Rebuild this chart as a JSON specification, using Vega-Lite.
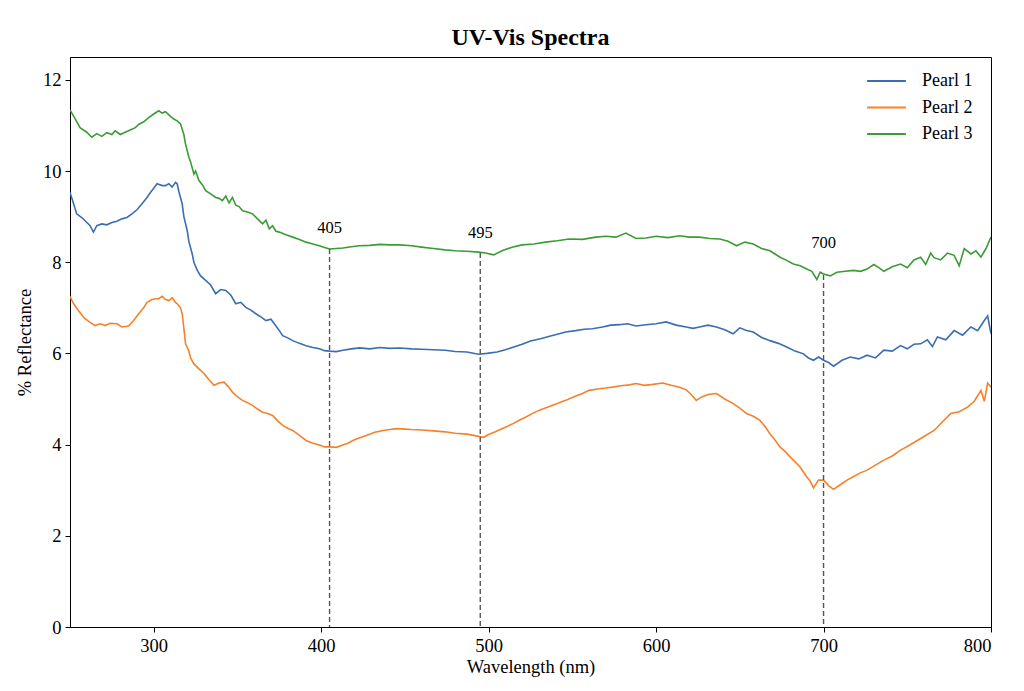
{
  "$schema": "https://vega.github.io/schema/vega-lite/v6.json",
  "autosize": "none",
  "padding": {"left": 70, "top": 57, "right": 33, "bottom": 64},
  "width": 921,
  "height": 570,
  "background": "white",
  "config": {
    "view": {"stroke": "black", "strokeWidth": 1},
    "font": "Liberation Serif",
    "axis": {"labelFont": "Liberation Serif", "titleFont": "Liberation Serif", "labelFontSize": 18.5, "titleFontSize": 18.5, "titleFontWeight": "normal", "labelColor": "black", "titleColor": "black", "domainColor": "black", "tickColor": "black", "tickSize": 5, "grid": false}
  },
  "title": {"text": "UV-Vis Spectra", "fontSize": 24, "fontWeight": "bold", "font": "Liberation Serif", "offset": 7, "color": "black"},
  "datasets": {
    "spectra": [
      {"nm":250,"r":11.34,"s":"Pearl 3"},{"nm":253,"r":11.15,"s":"Pearl 3"},{"nm":256,"r":10.95,"s":"Pearl 3"},{"nm":260,"r":10.85,"s":"Pearl 3"},{"nm":263,"r":10.74,"s":"Pearl 3"},{"nm":266,"r":10.82,"s":"Pearl 3"},{"nm":269,"r":10.76,"s":"Pearl 3"},{"nm":272,"r":10.84,"s":"Pearl 3"},{"nm":275,"r":10.8,"s":"Pearl 3"},{"nm":277,"r":10.88,"s":"Pearl 3"},{"nm":280,"r":10.8,"s":"Pearl 3"},{"nm":283,"r":10.85,"s":"Pearl 3"},{"nm":286,"r":10.9,"s":"Pearl 3"},{"nm":289,"r":10.95,"s":"Pearl 3"},{"nm":291,"r":11.02,"s":"Pearl 3"},{"nm":294,"r":11.08,"s":"Pearl 3"},{"nm":297,"r":11.17,"s":"Pearl 3"},{"nm":300,"r":11.25,"s":"Pearl 3"},{"nm":303,"r":11.32,"s":"Pearl 3"},{"nm":305,"r":11.27,"s":"Pearl 3"},{"nm":307,"r":11.3,"s":"Pearl 3"},{"nm":310,"r":11.2,"s":"Pearl 3"},{"nm":312,"r":11.14,"s":"Pearl 3"},{"nm":314,"r":11.1,"s":"Pearl 3"},{"nm":316,"r":11.03,"s":"Pearl 3"},{"nm":318,"r":10.8,"s":"Pearl 3"},{"nm":319,"r":10.59,"s":"Pearl 3"},{"nm":321,"r":10.3,"s":"Pearl 3"},{"nm":322,"r":10.2,"s":"Pearl 3"},{"nm":324,"r":9.93,"s":"Pearl 3"},{"nm":325,"r":10.0,"s":"Pearl 3"},{"nm":327,"r":9.79,"s":"Pearl 3"},{"nm":329,"r":9.7,"s":"Pearl 3"},{"nm":331,"r":9.57,"s":"Pearl 3"},{"nm":334,"r":9.5,"s":"Pearl 3"},{"nm":337,"r":9.42,"s":"Pearl 3"},{"nm":339,"r":9.4,"s":"Pearl 3"},{"nm":341,"r":9.35,"s":"Pearl 3"},{"nm":343,"r":9.45,"s":"Pearl 3"},{"nm":345,"r":9.3,"s":"Pearl 3"},{"nm":347,"r":9.42,"s":"Pearl 3"},{"nm":349,"r":9.25,"s":"Pearl 3"},{"nm":351,"r":9.22,"s":"Pearl 3"},{"nm":353,"r":9.13,"s":"Pearl 3"},{"nm":356,"r":9.1,"s":"Pearl 3"},{"nm":359,"r":9.06,"s":"Pearl 3"},{"nm":362,"r":8.95,"s":"Pearl 3"},{"nm":365,"r":8.84,"s":"Pearl 3"},{"nm":367,"r":8.92,"s":"Pearl 3"},{"nm":369,"r":8.73,"s":"Pearl 3"},{"nm":371,"r":8.8,"s":"Pearl 3"},{"nm":373,"r":8.68,"s":"Pearl 3"},{"nm":375,"r":8.66,"s":"Pearl 3"},{"nm":379,"r":8.6,"s":"Pearl 3"},{"nm":383,"r":8.55,"s":"Pearl 3"},{"nm":387,"r":8.5,"s":"Pearl 3"},{"nm":391,"r":8.44,"s":"Pearl 3"},{"nm":395,"r":8.4,"s":"Pearl 3"},{"nm":399,"r":8.36,"s":"Pearl 3"},{"nm":402,"r":8.32,"s":"Pearl 3"},{"nm":405,"r":8.29,"s":"Pearl 3"},{"nm":409,"r":8.3,"s":"Pearl 3"},{"nm":413,"r":8.31,"s":"Pearl 3"},{"nm":418,"r":8.34,"s":"Pearl 3"},{"nm":423,"r":8.36,"s":"Pearl 3"},{"nm":429,"r":8.37,"s":"Pearl 3"},{"nm":435,"r":8.39,"s":"Pearl 3"},{"nm":441,"r":8.38,"s":"Pearl 3"},{"nm":447,"r":8.38,"s":"Pearl 3"},{"nm":454,"r":8.36,"s":"Pearl 3"},{"nm":460,"r":8.33,"s":"Pearl 3"},{"nm":467,"r":8.3,"s":"Pearl 3"},{"nm":474,"r":8.27,"s":"Pearl 3"},{"nm":480,"r":8.25,"s":"Pearl 3"},{"nm":487,"r":8.24,"s":"Pearl 3"},{"nm":494,"r":8.22,"s":"Pearl 3"},{"nm":498,"r":8.2,"s":"Pearl 3"},{"nm":503,"r":8.16,"s":"Pearl 3"},{"nm":508,"r":8.25,"s":"Pearl 3"},{"nm":514,"r":8.33,"s":"Pearl 3"},{"nm":520,"r":8.38,"s":"Pearl 3"},{"nm":527,"r":8.4,"s":"Pearl 3"},{"nm":534,"r":8.44,"s":"Pearl 3"},{"nm":541,"r":8.47,"s":"Pearl 3"},{"nm":548,"r":8.51,"s":"Pearl 3"},{"nm":556,"r":8.5,"s":"Pearl 3"},{"nm":564,"r":8.55,"s":"Pearl 3"},{"nm":570,"r":8.57,"s":"Pearl 3"},{"nm":576,"r":8.55,"s":"Pearl 3"},{"nm":582,"r":8.64,"s":"Pearl 3"},{"nm":588,"r":8.52,"s":"Pearl 3"},{"nm":594,"r":8.53,"s":"Pearl 3"},{"nm":600,"r":8.57,"s":"Pearl 3"},{"nm":607,"r":8.54,"s":"Pearl 3"},{"nm":614,"r":8.58,"s":"Pearl 3"},{"nm":620,"r":8.55,"s":"Pearl 3"},{"nm":626,"r":8.55,"s":"Pearl 3"},{"nm":632,"r":8.52,"s":"Pearl 3"},{"nm":638,"r":8.51,"s":"Pearl 3"},{"nm":643,"r":8.46,"s":"Pearl 3"},{"nm":648,"r":8.36,"s":"Pearl 3"},{"nm":653,"r":8.44,"s":"Pearl 3"},{"nm":658,"r":8.4,"s":"Pearl 3"},{"nm":663,"r":8.3,"s":"Pearl 3"},{"nm":668,"r":8.25,"s":"Pearl 3"},{"nm":671,"r":8.18,"s":"Pearl 3"},{"nm":674,"r":8.11,"s":"Pearl 3"},{"nm":678,"r":8.04,"s":"Pearl 3"},{"nm":682,"r":7.96,"s":"Pearl 3"},{"nm":686,"r":7.92,"s":"Pearl 3"},{"nm":690,"r":7.85,"s":"Pearl 3"},{"nm":693,"r":7.8,"s":"Pearl 3"},{"nm":696,"r":7.62,"s":"Pearl 3"},{"nm":698,"r":7.78,"s":"Pearl 3"},{"nm":700,"r":7.74,"s":"Pearl 3"},{"nm":704,"r":7.7,"s":"Pearl 3"},{"nm":708,"r":7.78,"s":"Pearl 3"},{"nm":713,"r":7.8,"s":"Pearl 3"},{"nm":718,"r":7.82,"s":"Pearl 3"},{"nm":722,"r":7.8,"s":"Pearl 3"},{"nm":726,"r":7.85,"s":"Pearl 3"},{"nm":730,"r":7.95,"s":"Pearl 3"},{"nm":733,"r":7.88,"s":"Pearl 3"},{"nm":736,"r":7.8,"s":"Pearl 3"},{"nm":741,"r":7.9,"s":"Pearl 3"},{"nm":746,"r":7.96,"s":"Pearl 3"},{"nm":750,"r":7.88,"s":"Pearl 3"},{"nm":754,"r":8.05,"s":"Pearl 3"},{"nm":758,"r":8.11,"s":"Pearl 3"},{"nm":761,"r":7.95,"s":"Pearl 3"},{"nm":764,"r":8.2,"s":"Pearl 3"},{"nm":766,"r":8.1,"s":"Pearl 3"},{"nm":770,"r":8.05,"s":"Pearl 3"},{"nm":774,"r":8.2,"s":"Pearl 3"},{"nm":778,"r":8.15,"s":"Pearl 3"},{"nm":781,"r":7.92,"s":"Pearl 3"},{"nm":784,"r":8.3,"s":"Pearl 3"},{"nm":788,"r":8.18,"s":"Pearl 3"},{"nm":791,"r":8.25,"s":"Pearl 3"},{"nm":794,"r":8.11,"s":"Pearl 3"},{"nm":797,"r":8.3,"s":"Pearl 3"},{"nm":800,"r":8.55,"s":"Pearl 3"},

      {"nm":250,"r":9.53,"s":"Pearl 1"},{"nm":252,"r":9.3,"s":"Pearl 1"},{"nm":254,"r":9.06,"s":"Pearl 1"},{"nm":257,"r":8.98,"s":"Pearl 1"},{"nm":259,"r":8.91,"s":"Pearl 1"},{"nm":262,"r":8.8,"s":"Pearl 1"},{"nm":264,"r":8.66,"s":"Pearl 1"},{"nm":266,"r":8.8,"s":"Pearl 1"},{"nm":269,"r":8.84,"s":"Pearl 1"},{"nm":272,"r":8.82,"s":"Pearl 1"},{"nm":275,"r":8.87,"s":"Pearl 1"},{"nm":278,"r":8.9,"s":"Pearl 1"},{"nm":281,"r":8.95,"s":"Pearl 1"},{"nm":284,"r":8.98,"s":"Pearl 1"},{"nm":287,"r":9.06,"s":"Pearl 1"},{"nm":290,"r":9.15,"s":"Pearl 1"},{"nm":293,"r":9.28,"s":"Pearl 1"},{"nm":296,"r":9.42,"s":"Pearl 1"},{"nm":298,"r":9.53,"s":"Pearl 1"},{"nm":300,"r":9.62,"s":"Pearl 1"},{"nm":302,"r":9.72,"s":"Pearl 1"},{"nm":305,"r":9.68,"s":"Pearl 1"},{"nm":307,"r":9.68,"s":"Pearl 1"},{"nm":309,"r":9.72,"s":"Pearl 1"},{"nm":311,"r":9.65,"s":"Pearl 1"},{"nm":313,"r":9.75,"s":"Pearl 1"},{"nm":314,"r":9.72,"s":"Pearl 1"},{"nm":315,"r":9.55,"s":"Pearl 1"},{"nm":317,"r":9.28,"s":"Pearl 1"},{"nm":318,"r":9.0,"s":"Pearl 1"},{"nm":320,"r":8.69,"s":"Pearl 1"},{"nm":321,"r":8.45,"s":"Pearl 1"},{"nm":323,"r":8.18,"s":"Pearl 1"},{"nm":324,"r":8.0,"s":"Pearl 1"},{"nm":326,"r":7.82,"s":"Pearl 1"},{"nm":328,"r":7.7,"s":"Pearl 1"},{"nm":331,"r":7.6,"s":"Pearl 1"},{"nm":334,"r":7.5,"s":"Pearl 1"},{"nm":337,"r":7.31,"s":"Pearl 1"},{"nm":340,"r":7.4,"s":"Pearl 1"},{"nm":343,"r":7.38,"s":"Pearl 1"},{"nm":346,"r":7.28,"s":"Pearl 1"},{"nm":349,"r":7.09,"s":"Pearl 1"},{"nm":352,"r":7.12,"s":"Pearl 1"},{"nm":355,"r":7.01,"s":"Pearl 1"},{"nm":358,"r":6.95,"s":"Pearl 1"},{"nm":361,"r":6.87,"s":"Pearl 1"},{"nm":364,"r":6.8,"s":"Pearl 1"},{"nm":367,"r":6.72,"s":"Pearl 1"},{"nm":370,"r":6.75,"s":"Pearl 1"},{"nm":372,"r":6.65,"s":"Pearl 1"},{"nm":375,"r":6.5,"s":"Pearl 1"},{"nm":377,"r":6.39,"s":"Pearl 1"},{"nm":380,"r":6.34,"s":"Pearl 1"},{"nm":383,"r":6.28,"s":"Pearl 1"},{"nm":387,"r":6.22,"s":"Pearl 1"},{"nm":391,"r":6.17,"s":"Pearl 1"},{"nm":395,"r":6.13,"s":"Pearl 1"},{"nm":399,"r":6.1,"s":"Pearl 1"},{"nm":402,"r":6.06,"s":"Pearl 1"},{"nm":405,"r":6.05,"s":"Pearl 1"},{"nm":409,"r":6.04,"s":"Pearl 1"},{"nm":413,"r":6.07,"s":"Pearl 1"},{"nm":418,"r":6.1,"s":"Pearl 1"},{"nm":423,"r":6.12,"s":"Pearl 1"},{"nm":429,"r":6.1,"s":"Pearl 1"},{"nm":435,"r":6.13,"s":"Pearl 1"},{"nm":441,"r":6.11,"s":"Pearl 1"},{"nm":447,"r":6.12,"s":"Pearl 1"},{"nm":454,"r":6.1,"s":"Pearl 1"},{"nm":460,"r":6.09,"s":"Pearl 1"},{"nm":467,"r":6.08,"s":"Pearl 1"},{"nm":474,"r":6.07,"s":"Pearl 1"},{"nm":480,"r":6.04,"s":"Pearl 1"},{"nm":487,"r":6.03,"s":"Pearl 1"},{"nm":494,"r":5.98,"s":"Pearl 1"},{"nm":499,"r":6.0,"s":"Pearl 1"},{"nm":505,"r":6.03,"s":"Pearl 1"},{"nm":510,"r":6.08,"s":"Pearl 1"},{"nm":515,"r":6.14,"s":"Pearl 1"},{"nm":520,"r":6.2,"s":"Pearl 1"},{"nm":525,"r":6.27,"s":"Pearl 1"},{"nm":531,"r":6.32,"s":"Pearl 1"},{"nm":537,"r":6.38,"s":"Pearl 1"},{"nm":541,"r":6.42,"s":"Pearl 1"},{"nm":546,"r":6.47,"s":"Pearl 1"},{"nm":552,"r":6.5,"s":"Pearl 1"},{"nm":557,"r":6.53,"s":"Pearl 1"},{"nm":562,"r":6.54,"s":"Pearl 1"},{"nm":568,"r":6.58,"s":"Pearl 1"},{"nm":573,"r":6.62,"s":"Pearl 1"},{"nm":578,"r":6.63,"s":"Pearl 1"},{"nm":583,"r":6.65,"s":"Pearl 1"},{"nm":588,"r":6.6,"s":"Pearl 1"},{"nm":594,"r":6.63,"s":"Pearl 1"},{"nm":600,"r":6.65,"s":"Pearl 1"},{"nm":606,"r":6.69,"s":"Pearl 1"},{"nm":612,"r":6.62,"s":"Pearl 1"},{"nm":618,"r":6.58,"s":"Pearl 1"},{"nm":622,"r":6.55,"s":"Pearl 1"},{"nm":626,"r":6.58,"s":"Pearl 1"},{"nm":631,"r":6.62,"s":"Pearl 1"},{"nm":636,"r":6.58,"s":"Pearl 1"},{"nm":641,"r":6.52,"s":"Pearl 1"},{"nm":646,"r":6.43,"s":"Pearl 1"},{"nm":650,"r":6.56,"s":"Pearl 1"},{"nm":654,"r":6.5,"s":"Pearl 1"},{"nm":658,"r":6.47,"s":"Pearl 1"},{"nm":663,"r":6.35,"s":"Pearl 1"},{"nm":668,"r":6.28,"s":"Pearl 1"},{"nm":673,"r":6.22,"s":"Pearl 1"},{"nm":678,"r":6.14,"s":"Pearl 1"},{"nm":683,"r":6.05,"s":"Pearl 1"},{"nm":688,"r":5.99,"s":"Pearl 1"},{"nm":691,"r":5.9,"s":"Pearl 1"},{"nm":694,"r":5.85,"s":"Pearl 1"},{"nm":697,"r":5.92,"s":"Pearl 1"},{"nm":700,"r":5.85,"s":"Pearl 1"},{"nm":703,"r":5.8,"s":"Pearl 1"},{"nm":706,"r":5.72,"s":"Pearl 1"},{"nm":711,"r":5.85,"s":"Pearl 1"},{"nm":716,"r":5.92,"s":"Pearl 1"},{"nm":721,"r":5.88,"s":"Pearl 1"},{"nm":726,"r":5.96,"s":"Pearl 1"},{"nm":731,"r":5.9,"s":"Pearl 1"},{"nm":736,"r":6.07,"s":"Pearl 1"},{"nm":741,"r":6.05,"s":"Pearl 1"},{"nm":746,"r":6.17,"s":"Pearl 1"},{"nm":750,"r":6.1,"s":"Pearl 1"},{"nm":754,"r":6.2,"s":"Pearl 1"},{"nm":758,"r":6.21,"s":"Pearl 1"},{"nm":762,"r":6.3,"s":"Pearl 1"},{"nm":765,"r":6.15,"s":"Pearl 1"},{"nm":768,"r":6.36,"s":"Pearl 1"},{"nm":773,"r":6.3,"s":"Pearl 1"},{"nm":778,"r":6.5,"s":"Pearl 1"},{"nm":783,"r":6.4,"s":"Pearl 1"},{"nm":788,"r":6.58,"s":"Pearl 1"},{"nm":792,"r":6.5,"s":"Pearl 1"},{"nm":796,"r":6.72,"s":"Pearl 1"},{"nm":798,"r":6.82,"s":"Pearl 1"},{"nm":800,"r":6.43,"s":"Pearl 1"},

      {"nm":250,"r":7.25,"s":"Pearl 2"},{"nm":252,"r":7.1,"s":"Pearl 2"},{"nm":255,"r":6.94,"s":"Pearl 2"},{"nm":257,"r":6.85,"s":"Pearl 2"},{"nm":259,"r":6.76,"s":"Pearl 2"},{"nm":262,"r":6.68,"s":"Pearl 2"},{"nm":265,"r":6.61,"s":"Pearl 2"},{"nm":268,"r":6.65,"s":"Pearl 2"},{"nm":271,"r":6.61,"s":"Pearl 2"},{"nm":274,"r":6.66,"s":"Pearl 2"},{"nm":278,"r":6.65,"s":"Pearl 2"},{"nm":281,"r":6.58,"s":"Pearl 2"},{"nm":285,"r":6.6,"s":"Pearl 2"},{"nm":288,"r":6.72,"s":"Pearl 2"},{"nm":291,"r":6.87,"s":"Pearl 2"},{"nm":294,"r":7.0,"s":"Pearl 2"},{"nm":296,"r":7.12,"s":"Pearl 2"},{"nm":299,"r":7.18,"s":"Pearl 2"},{"nm":301,"r":7.2,"s":"Pearl 2"},{"nm":303,"r":7.2,"s":"Pearl 2"},{"nm":305,"r":7.25,"s":"Pearl 2"},{"nm":307,"r":7.18,"s":"Pearl 2"},{"nm":309,"r":7.16,"s":"Pearl 2"},{"nm":311,"r":7.22,"s":"Pearl 2"},{"nm":313,"r":7.12,"s":"Pearl 2"},{"nm":314,"r":7.09,"s":"Pearl 2"},{"nm":316,"r":7.0,"s":"Pearl 2"},{"nm":317,"r":6.87,"s":"Pearl 2"},{"nm":318,"r":6.55,"s":"Pearl 2"},{"nm":319,"r":6.21,"s":"Pearl 2"},{"nm":321,"r":6.05,"s":"Pearl 2"},{"nm":322,"r":5.9,"s":"Pearl 2"},{"nm":324,"r":5.77,"s":"Pearl 2"},{"nm":327,"r":5.66,"s":"Pearl 2"},{"nm":330,"r":5.56,"s":"Pearl 2"},{"nm":333,"r":5.42,"s":"Pearl 2"},{"nm":336,"r":5.3,"s":"Pearl 2"},{"nm":339,"r":5.35,"s":"Pearl 2"},{"nm":342,"r":5.37,"s":"Pearl 2"},{"nm":345,"r":5.25,"s":"Pearl 2"},{"nm":347,"r":5.15,"s":"Pearl 2"},{"nm":350,"r":5.05,"s":"Pearl 2"},{"nm":353,"r":4.97,"s":"Pearl 2"},{"nm":356,"r":4.92,"s":"Pearl 2"},{"nm":359,"r":4.86,"s":"Pearl 2"},{"nm":362,"r":4.78,"s":"Pearl 2"},{"nm":365,"r":4.71,"s":"Pearl 2"},{"nm":368,"r":4.68,"s":"Pearl 2"},{"nm":371,"r":4.64,"s":"Pearl 2"},{"nm":374,"r":4.52,"s":"Pearl 2"},{"nm":377,"r":4.42,"s":"Pearl 2"},{"nm":380,"r":4.36,"s":"Pearl 2"},{"nm":383,"r":4.31,"s":"Pearl 2"},{"nm":387,"r":4.2,"s":"Pearl 2"},{"nm":391,"r":4.09,"s":"Pearl 2"},{"nm":395,"r":4.03,"s":"Pearl 2"},{"nm":399,"r":3.99,"s":"Pearl 2"},{"nm":402,"r":3.95,"s":"Pearl 2"},{"nm":405,"r":3.95,"s":"Pearl 2"},{"nm":409,"r":3.94,"s":"Pearl 2"},{"nm":413,"r":3.99,"s":"Pearl 2"},{"nm":416,"r":4.03,"s":"Pearl 2"},{"nm":419,"r":4.09,"s":"Pearl 2"},{"nm":423,"r":4.15,"s":"Pearl 2"},{"nm":427,"r":4.2,"s":"Pearl 2"},{"nm":432,"r":4.27,"s":"Pearl 2"},{"nm":437,"r":4.31,"s":"Pearl 2"},{"nm":441,"r":4.33,"s":"Pearl 2"},{"nm":445,"r":4.35,"s":"Pearl 2"},{"nm":450,"r":4.34,"s":"Pearl 2"},{"nm":454,"r":4.33,"s":"Pearl 2"},{"nm":460,"r":4.32,"s":"Pearl 2"},{"nm":467,"r":4.3,"s":"Pearl 2"},{"nm":474,"r":4.28,"s":"Pearl 2"},{"nm":480,"r":4.25,"s":"Pearl 2"},{"nm":487,"r":4.23,"s":"Pearl 2"},{"nm":494,"r":4.18,"s":"Pearl 2"},{"nm":497,"r":4.16,"s":"Pearl 2"},{"nm":500,"r":4.22,"s":"Pearl 2"},{"nm":504,"r":4.28,"s":"Pearl 2"},{"nm":510,"r":4.38,"s":"Pearl 2"},{"nm":514,"r":4.45,"s":"Pearl 2"},{"nm":518,"r":4.53,"s":"Pearl 2"},{"nm":522,"r":4.6,"s":"Pearl 2"},{"nm":526,"r":4.68,"s":"Pearl 2"},{"nm":530,"r":4.75,"s":"Pearl 2"},{"nm":535,"r":4.82,"s":"Pearl 2"},{"nm":541,"r":4.9,"s":"Pearl 2"},{"nm":546,"r":4.97,"s":"Pearl 2"},{"nm":551,"r":5.05,"s":"Pearl 2"},{"nm":556,"r":5.12,"s":"Pearl 2"},{"nm":560,"r":5.19,"s":"Pearl 2"},{"nm":565,"r":5.22,"s":"Pearl 2"},{"nm":570,"r":5.24,"s":"Pearl 2"},{"nm":574,"r":5.26,"s":"Pearl 2"},{"nm":579,"r":5.29,"s":"Pearl 2"},{"nm":584,"r":5.31,"s":"Pearl 2"},{"nm":588,"r":5.34,"s":"Pearl 2"},{"nm":593,"r":5.3,"s":"Pearl 2"},{"nm":598,"r":5.32,"s":"Pearl 2"},{"nm":604,"r":5.35,"s":"Pearl 2"},{"nm":609,"r":5.3,"s":"Pearl 2"},{"nm":614,"r":5.26,"s":"Pearl 2"},{"nm":618,"r":5.2,"s":"Pearl 2"},{"nm":621,"r":5.1,"s":"Pearl 2"},{"nm":624,"r":4.97,"s":"Pearl 2"},{"nm":627,"r":5.04,"s":"Pearl 2"},{"nm":631,"r":5.1,"s":"Pearl 2"},{"nm":636,"r":5.12,"s":"Pearl 2"},{"nm":641,"r":5.0,"s":"Pearl 2"},{"nm":646,"r":4.9,"s":"Pearl 2"},{"nm":650,"r":4.8,"s":"Pearl 2"},{"nm":654,"r":4.68,"s":"Pearl 2"},{"nm":658,"r":4.62,"s":"Pearl 2"},{"nm":662,"r":4.53,"s":"Pearl 2"},{"nm":665,"r":4.4,"s":"Pearl 2"},{"nm":668,"r":4.24,"s":"Pearl 2"},{"nm":671,"r":4.1,"s":"Pearl 2"},{"nm":674,"r":3.95,"s":"Pearl 2"},{"nm":677,"r":3.85,"s":"Pearl 2"},{"nm":680,"r":3.73,"s":"Pearl 2"},{"nm":683,"r":3.62,"s":"Pearl 2"},{"nm":686,"r":3.51,"s":"Pearl 2"},{"nm":688,"r":3.4,"s":"Pearl 2"},{"nm":690,"r":3.29,"s":"Pearl 2"},{"nm":692,"r":3.2,"s":"Pearl 2"},{"nm":694,"r":3.05,"s":"Pearl 2"},{"nm":697,"r":3.22,"s":"Pearl 2"},{"nm":700,"r":3.22,"s":"Pearl 2"},{"nm":703,"r":3.1,"s":"Pearl 2"},{"nm":706,"r":3.02,"s":"Pearl 2"},{"nm":710,"r":3.12,"s":"Pearl 2"},{"nm":714,"r":3.22,"s":"Pearl 2"},{"nm":718,"r":3.3,"s":"Pearl 2"},{"nm":722,"r":3.38,"s":"Pearl 2"},{"nm":726,"r":3.44,"s":"Pearl 2"},{"nm":731,"r":3.55,"s":"Pearl 2"},{"nm":736,"r":3.66,"s":"Pearl 2"},{"nm":741,"r":3.75,"s":"Pearl 2"},{"nm":746,"r":3.88,"s":"Pearl 2"},{"nm":751,"r":3.98,"s":"Pearl 2"},{"nm":756,"r":4.09,"s":"Pearl 2"},{"nm":761,"r":4.2,"s":"Pearl 2"},{"nm":766,"r":4.31,"s":"Pearl 2"},{"nm":771,"r":4.5,"s":"Pearl 2"},{"nm":776,"r":4.68,"s":"Pearl 2"},{"nm":781,"r":4.72,"s":"Pearl 2"},{"nm":786,"r":4.82,"s":"Pearl 2"},{"nm":790,"r":4.95,"s":"Pearl 2"},{"nm":794,"r":5.19,"s":"Pearl 2"},{"nm":796,"r":4.95,"s":"Pearl 2"},{"nm":798,"r":5.35,"s":"Pearl 2"},{"nm":800,"r":5.26,"s":"Pearl 2"}
    ],
    "peaks": [
      {"nm": 405, "top": 8.29, "label_y": 8.74, "label": "405"},
      {"nm": 495, "top": 8.2, "label_y": 8.63, "label": "495"},
      {"nm": 700, "top": 7.72, "label_y": 8.42, "label": "700"}
    ]
  },
  "layer": [
    {
      "data": {"name": "spectra"},
      "mark": {"type": "line", "strokeWidth": 1.6, "clip": true},
      "encoding": {
        "x": {"field": "nm", "type": "quantitative", "scale": {"domain": [250, 800], "nice": false, "zero": false}, "axis": {"values": [300, 400, 500, 600, 700, 800], "title": "Wavelength (nm)", "titlePadding": 3, "labelPadding": 4}},
        "y": {"field": "r", "type": "quantitative", "scale": {"domain": [0, 12.5], "nice": false}, "axis": {"values": [0, 2, 4, 6, 8, 10, 12], "title": "% Reflectance", "titlePadding": 8, "labelPadding": 4}},
        "color": {"field": "s", "type": "nominal", "scale": {"domain": ["Pearl 1", "Pearl 2", "Pearl 3"], "range": ["#3a6db1", "#f5822a", "#3b9b35"]},
          "legend": {"title": null, "orient": "none", "legendX": 796, "legendY": 14, "padding": 0, "symbolType": "stroke", "symbolSize": 1500, "symbolStrokeWidth": 2, "labelFont": "Liberation Serif", "labelFontSize": 18, "labelColor": "black", "labelOffset": 15, "clipHeight": 20, "rowPadding": 6.5}},
        "detail": {"field": "s"},
        "order": {"field": "nm", "type": "quantitative"}
      }
    },
    {
      "data": {"name": "peaks"},
      "mark": {"type": "rule", "color": "#555555", "strokeWidth": 1.4, "strokeDash": [5, 3]},
      "encoding": {
        "x": {"field": "nm", "type": "quantitative"},
        "y": {"field": "top", "type": "quantitative"},
        "y2": {"datum": 0}
      }
    },
    {
      "data": {"name": "peaks"},
      "mark": {"type": "text", "font": "Liberation Serif", "fontSize": 16.5, "color": "black", "baseline": "middle"},
      "encoding": {
        "x": {"field": "nm", "type": "quantitative"},
        "y": {"field": "label_y", "type": "quantitative"},
        "text": {"field": "label"}
      }
    }
  ]
}
